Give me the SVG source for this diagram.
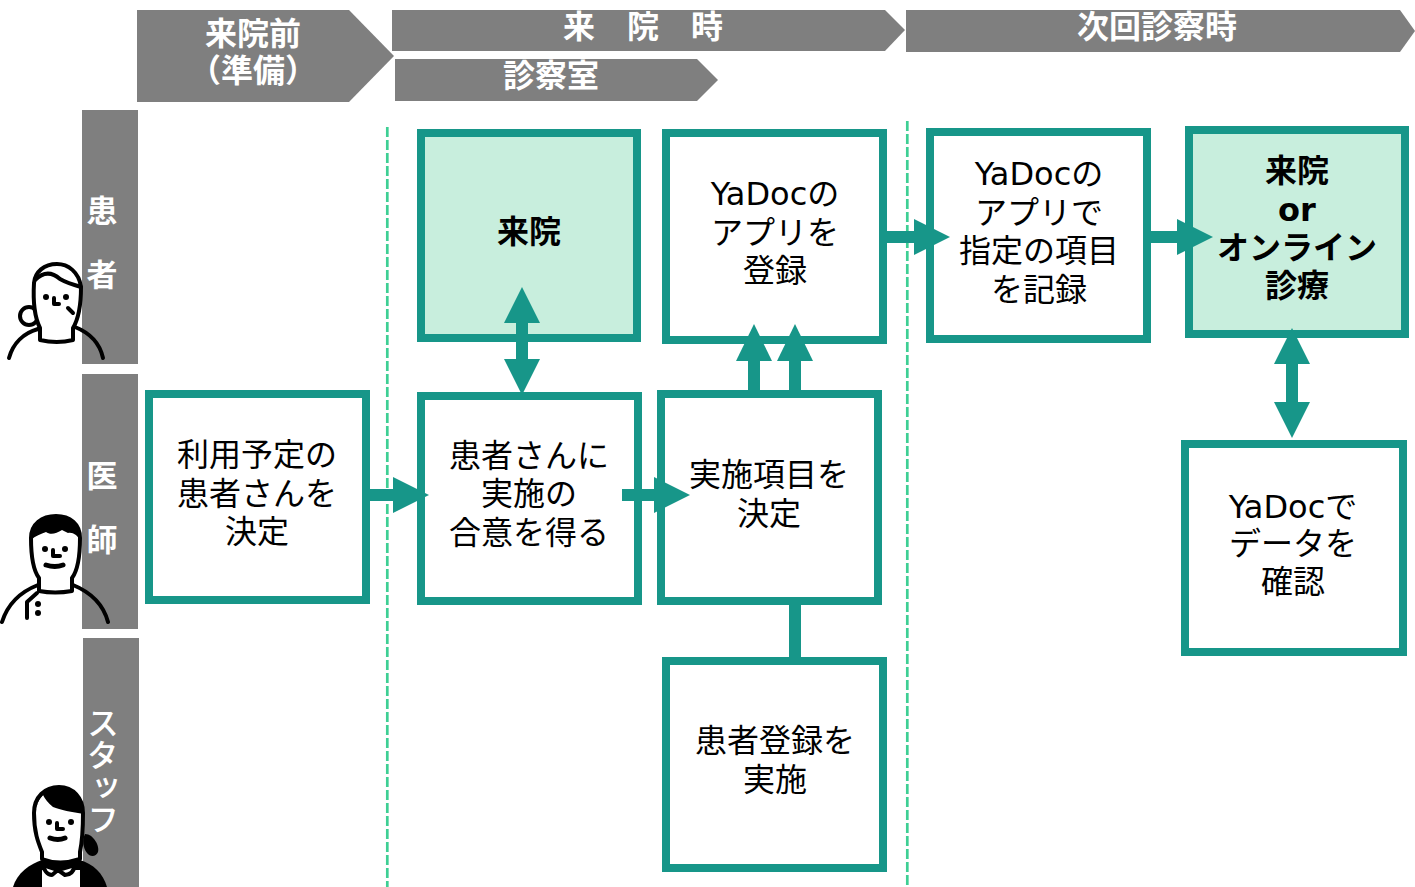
<svg xmlns="http://www.w3.org/2000/svg" width="1415" height="887" viewBox="0 0 1415 887">
<style>
text{font-family:"DejaVu Sans","Noto Sans CJK JP",sans-serif}
.hd{fill:#7f7f7f}
.ht{fill:#fff;font-weight:700;font-size:32px;text-anchor:middle}
.vt{fill:#fff;font-weight:700;font-size:31px;text-anchor:middle}
.vs{fill:#fff;font-weight:500;font-size:32px;font-family:"Noto Sans CJK JP",sans-serif;writing-mode:vertical-rl}
.b{fill:#fff;stroke:#179689;stroke-width:8}
.g{fill:#c8eedd;stroke:#179689;stroke-width:8}
.t{fill:#000;font-size:32px;text-anchor:middle}
.tb{fill:#000;font-size:32px;font-weight:700;text-anchor:middle}
.dash{stroke:#3ecf94;stroke-width:2.7;stroke-dasharray:10 3;fill:none}
.c{stroke:#179689;stroke-width:12;fill:none}
.ah{fill:#179689}
.l{fill:none;stroke:#000;stroke-width:4;stroke-linecap:round;stroke-linejoin:round}
.m{fill:none;stroke:#000;stroke-width:5;stroke-linecap:round}
.w{fill:#fff;stroke:#000;stroke-width:4;stroke-linejoin:round}
.k{fill:#000}
</style>
<g id="headers">
<polygon class="hd" points="137,10 349,10 394,56 349,102 137,102"/>
<text class="ht" x="253" y="45">来院前</text><text class="ht" x="253" y="82">（準備）</text>
<polygon class="hd" points="392,10 885,10 905,30 885,51 392,51"/>
<text class="ht" x="643" y="38" xml:space="preserve">来　院　時</text>
<polygon class="hd" points="395,59 697,59 718,80 697,101 395,101"/>
<text class="ht" x="551" y="87">診察室</text>
<polygon class="hd" points="906,10 1400,10 1415,31 1400,52 906,52"/>
<text class="ht" x="1157" y="38">次回診察時</text>
</g>
<g id="lanes">
<rect class="hd" x="82" y="110" width="56" height="254"/>
<text class="vt" x="102" y="222">患</text><text class="vt" x="102" y="286">者</text>
<rect class="hd" x="82" y="374" width="56" height="255"/>
<text class="vt" x="102" y="487">医</text><text class="vt" x="102" y="551">師</text>
<rect class="hd" x="83" y="638" width="56" height="249"/>
<text class="vs" x="103" y="707">スタッフ</text>
</g>
<g id="dividers">
<line class="dash" x1="387.300" y1="127" x2="387.300" y2="887"/>
<line class="dash" x1="907.300" y1="121" x2="907.300" y2="887"/>
</g>
<g id="n1"><rect class="b" x="149" y="394" width="217" height="206"/><text class="t" x="257" y="466">利用予定の</text><text class="t" x="257" y="505">患者さんを</text><text class="t" x="257" y="543">決定</text></g>
<g id="n2"><rect class="g" x="421" y="133" width="216" height="205"/><text class="tb" x="529" y="243">来院</text></g>
<g id="n3"><rect class="b" x="421" y="396" width="217" height="205"/><text class="t" x="529" y="467">患者さんに</text><text class="t" x="529" y="505">実施の</text><text class="t" x="529" y="544">合意を得る</text></g>
<g id="n4"><rect class="b" x="666" y="133" width="217" height="207"/><text class="t" x="775" y="205">YaDocの</text><text class="t" x="775" y="244">アプリを</text><text class="t" x="775" y="282">登録</text></g>
<g id="n5"><rect class="b" x="661" y="394" width="217" height="207"/><text class="t" x="769" y="486">実施項目を</text><text class="t" x="769" y="525">決定</text></g>
<g id="n6"><rect class="b" x="666" y="661" width="217" height="207"/><text class="t" x="775" y="752">患者登録を</text><text class="t" x="775" y="791">実施</text></g>
<g id="n7"><rect class="b" x="930" y="132" width="217" height="207"/><text class="t" x="1039" y="185">YaDocの</text><text class="t" x="1039" y="224">アプリで</text><text class="t" x="1039" y="262">指定の項目</text><text class="t" x="1039" y="301">を記録</text></g>
<g id="n8"><rect class="g" x="1189" y="130" width="216" height="204"/><text class="tb" x="1297" y="182">来院</text><text class="tb" x="1297" y="221">or</text><text class="tb" x="1297" y="259">オンライン</text><text class="tb" x="1297" y="297">診療</text></g>
<g id="n9"><rect class="b" x="1185" y="444" width="218" height="208"/><text class="t" x="1293" y="518">YaDocで</text><text class="t" x="1293" y="555">データを</text><text class="t" x="1293" y="593">確認</text></g>
<g id="connectors">
<path class="c" d="M362,495H396M622,495H656M886,237H918M1150,237H1180M522,320V370M1292,362V406M754,358V392M795,358V392M795,602V660"/>
<polygon class="ah" points="393,477 429,495 393,513"/>
<polygon class="ah" points="654,477 690,495 654,513"/>
<polygon class="ah" points="914,219 950,237 914,255"/>
<polygon class="ah" points="1177,219 1213,237 1177,255"/>
<polygon class="ah" points="522,287 540,323 504,323"/>
<polygon class="ah" points="522,395 540,359 504,359"/>
<polygon class="ah" points="1292,328 1310,364 1274,364"/>
<polygon class="ah" points="1292,438 1310,402 1274,402"/>
<polygon class="ah" points="754,324 772,361 736,361"/>
<polygon class="ah" points="795,324 813,361 777,361"/>
</g>
<g id="patient">
<path class="l" d="M9,358C13,343 24,333 38,329M75,327C90,333 100,344 103,358"/>
<circle class="w" cx="29" cy="316" r="9"/>
<path class="w" d="M40,328V340Q57,344 73,340V328C79,318 81,300 81,287C79,272 68,264 57,264C44,264 35,272 34,283C33,300 34,316 40,328Z"/>
<path class="l" d="M35,280C44,271 52,272 60,279C67,283 74,285 81,287"/>
<circle class="k" cx="46" cy="297" r="3"/><circle class="k" cx="66" cy="297" r="3"/>
<path class="l" d="M54,298V304H59M68,308L73,313"/>
</g>
<g id="doctor">
<path class="l" d="M2,622C8,603 20,592 38,585M73,585C90,592 103,603 108,622"/>
<path class="w" d="M39,591V578C33,570 31,555 31,538C31,524 42,516 56,516C70,516 80,524 80,538C80,555 78,570 72,578V591Q55,594 39,591Z"/>
<path class="k" d="M31,540C31,524 42,516 56,516C70,516 80,524 80,540C77,535 73,532 68,533L62,530C56,534 50,535 46,532C41,534 35,536 31,540Z"/>
<circle class="k" cx="45" cy="549" r="3"/><circle class="k" cx="65" cy="549" r="3"/>
<path class="l" d="M53,550V556H60"/><path class="m" d="M46,565Q55,568 63,565"/>
<path class="l" d="M37,593L27,602V618"/><circle class="k" cx="38" cy="604" r="3"/><circle class="k" cx="38" cy="613" r="3"/>
</g>
<g id="staff">
<path class="k" d="M13,887C17,873 30,864 42,860L80,860C93,864 103,873 107,887Z"/>
<rect x="42" y="870" width="38" height="17" fill="#fff"/>
<path class="k" d="M85,834C94,834 100,847 98,852C96,857 90,857 87,853C83,848 82,840 85,834Z"/>
<path class="w" d="M42,859V852C38,842 34,832 34,813C34,797 45,787 59,787C73,787 83,798 83,813C83,832 82,842 80,852V859Q60,866 42,859Z"/>
<path class="k" d="M36,813C36,797 45,787 59,787C73,787 84,798 84,814C72,812 60,810 53,807C48,803 45,799 43,795C38,800 36,806 36,813Z"/>
<circle class="k" cx="49" cy="822" r="3"/><circle class="k" cx="71" cy="822" r="3"/>
<path class="l" d="M57,823V829H63"/><path class="m" d="M50,838Q58,841 65,838"/>
<path class="w" d="M43,865L58,870L52,875C47,875 44,870 43,865ZM58,870L75,865C74,870 71,875 65,875Z"/>
</g>
</svg>
